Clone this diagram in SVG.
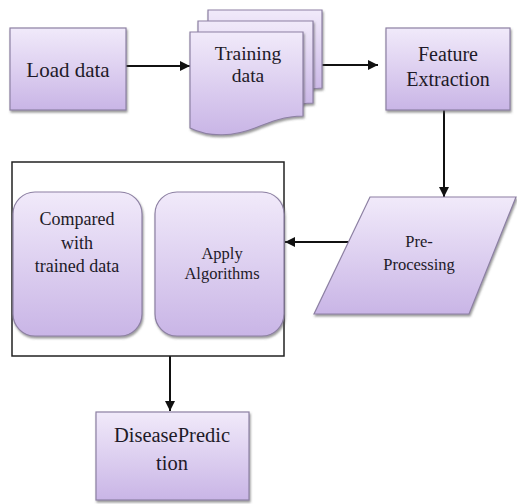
<svg xmlns="http://www.w3.org/2000/svg" width="517" height="504" viewBox="0 0 517 504">
<defs>
<linearGradient id="g" x1="0" y1="0" x2="0" y2="1">
<stop offset="0" stop-color="#f1eafa"/>
<stop offset="1" stop-color="#c9b5e6"/>
</linearGradient>
<marker id="ah" viewBox="0 0 10 10" refX="10" refY="5" markerWidth="10" markerHeight="10" markerUnits="userSpaceOnUse" orient="auto">
<path d="M0,0 L10,5 L0,10 z" fill="#111"/>
</marker>
<filter id="sh" x="-10%" y="-10%" width="125%" height="125%">
<feDropShadow dx="1" dy="2" stdDeviation="1.2" flood-color="#555" flood-opacity="0.6"/>
</filter>
</defs>
<style>
.n{fill:url(#g);stroke:#8d80a3;stroke-width:1.2;filter:url(#sh)}
.t{fill:#1e1a28;text-anchor:middle;font-family:'Liberation Serif',serif !important}
.c{stroke:#111;stroke-width:2;fill:none;marker-end:url(#ah)}
</style>
<rect width="517" height="504" fill="#fff"/>
<g id="connectors">
<path class="c" d="M126,66 H190"/>
<path class="c" d="M322,65 H378"/>
<path class="c" d="M444,110 V197"/>
<path class="c" d="M350,242 H285"/>
<path class="c" d="M170,356 V411"/>
</g>
<g id="load-data">
<rect class="n" x="10" y="28" width="116" height="82"/>
<text class="t" x="68" y="77" font-size="21" style="font-family:'Liberation Serif',serif">Load data</text>
</g>
<g id="training-data">
<path class="n" d="M208,10 H322 V88 C310,88 300,92 290,96 L208,96 Z"/>
<path class="n" d="M198,21 H313 V103 C300,103 290,107 280,110 L198,110 Z"/>
<path class="n" d="M190,32 H303 V116 C285,116 270,122 255,128 C235,136 210,138 190,128 Z"/>
<text class="t" x="248" y="60" font-size="19.5" style="font-family:'Liberation Serif',serif">Training</text>
<text class="t" x="248" y="82" font-size="19.5" style="font-family:'Liberation Serif',serif">data</text>
</g>
<g id="feature-extraction">
<rect class="n" x="386" y="28" width="124" height="82"/>
<text class="t" x="448" y="61" font-size="20" style="font-family:'Liberation Serif',serif">Feature</text>
<text class="t" x="448" y="86" font-size="20" style="font-family:'Liberation Serif',serif">Extraction</text>
</g>
<g id="pre-processing">
<path class="n" d="M370,197 H516 L469,314 H314 Z"/>
<text class="t" x="419" y="247" font-size="16.5" style="font-family:'Liberation Serif',serif">Pre-</text>
<text class="t" x="419" y="270" font-size="16.5" style="font-family:'Liberation Serif',serif">Processing</text>
</g>
<g id="group-box">
<rect x="12" y="162" width="272" height="194" fill="none" stroke="#222" stroke-width="1.5"/>
</g>
<g id="compared">
<rect class="n" x="13" y="192" width="129" height="144" rx="22"/>
<text class="t" x="77" y="225" font-size="18" style="font-family:'Liberation Serif',serif">Compared</text>
<text class="t" x="77" y="249" font-size="18" style="font-family:'Liberation Serif',serif">with</text>
<text class="t" x="77" y="272" font-size="18" style="font-family:'Liberation Serif',serif">trained data</text>
</g>
<g id="apply-algorithms">
<rect class="n" x="155" y="192" width="129" height="144" rx="22"/>
<text class="t" x="222" y="259" font-size="16.5" style="font-family:'Liberation Serif',serif">Apply</text>
<text class="t" x="222" y="279" font-size="16.5" style="font-family:'Liberation Serif',serif">Algorithms</text>
</g>
<g id="disease-prediction">
<rect class="n" x="96" y="412" width="153" height="88"/>
<text class="t" x="172" y="442" font-size="20.5" style="font-family:'Liberation Serif',serif">DiseasePredic</text>
<text class="t" x="172" y="470" font-size="20.5" style="font-family:'Liberation Serif',serif">tion</text>
</g>
</svg>
